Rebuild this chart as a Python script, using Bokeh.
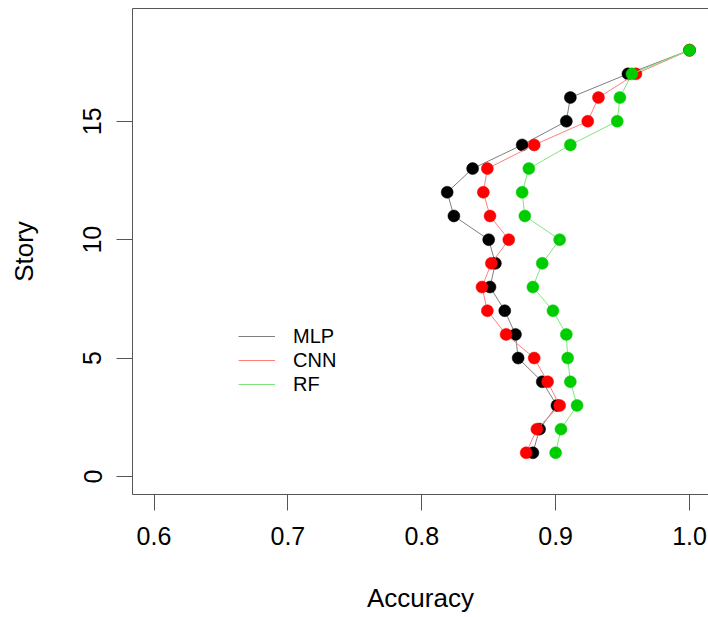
from bokeh.plotting import figure
from bokeh.models import (Range1d, FixedTicker, LinearAxis, Legend, LegendItem,
                          ColumnDataSource, PrintfTickFormatter)
from bokeh.embed import file_html
from bokeh.resources import INLINE

story = list(range(1, 19))
mlp = [0.883, 0.888, 0.901, 0.890, 0.872, 0.870, 0.862, 0.851, 0.855,
       0.850, 0.824, 0.819, 0.838, 0.875, 0.908, 0.911, 0.954, 1.000]
cnn = [0.878, 0.886, 0.903, 0.894, 0.884, 0.863, 0.849, 0.845, 0.852,
       0.865, 0.851, 0.846, 0.849, 0.884, 0.924, 0.932, 0.960, 1.000]
rf = [0.900, 0.904, 0.916, 0.911, 0.909, 0.908, 0.898, 0.883, 0.890,
      0.903, 0.877, 0.875, 0.880, 0.911, 0.946, 0.948, 0.957, 1.000]
series_names = ["MLP", "CNN", "RF"]
point_colors = ["#000000", "#FF0000", "#00CD00"]
line_colors = ["#7F7F7F", "#FF7F7F", "#7FE67F"]
x_ticks = [0.6, 0.7, 0.8, 0.9, 1.0]
y_ticks = [0, 5, 10, 15]

FONT = "Liberation Sans"
AXIS_GRAY = "#555555"

p = figure(width=708, height=617, output_backend="svg", toolbar_location=None,
           x_range=Range1d(0.58394, 1.01419), y_range=Range1d(-0.76, 19.76),
           min_border_left=132, min_border_right=0, min_border_top=8,
           min_border_bottom=123)
p.outline_line_color = None
p.grid.grid_line_color = None
p.background_fill_color = "white"
p.border_fill_color = "white"

p.xaxis.ticker = FixedTicker(ticks=x_ticks)
p.xaxis.formatter = PrintfTickFormatter(format="%.1f")
p.yaxis.ticker = FixedTicker(ticks=y_ticks)
for ax in (p.xaxis[0], p.yaxis[0]):
    ax.axis_line_color = AXIS_GRAY
    ax.major_tick_line_color = AXIS_GRAY
    ax.major_tick_out = 16
    ax.major_tick_in = 0
    ax.minor_tick_line_color = None
    ax.major_label_text_font = FONT
    ax.major_label_text_font_size = "25px"
    ax.major_label_text_color = "black"
    ax.axis_label_text_font = FONT
    ax.axis_label_text_font_size = "26px"
    ax.axis_label_text_font_style = "normal"
    ax.axis_label_text_color = "black"

p.xaxis.axis_label = "Accuracy"
p.yaxis.axis_label = "Story"
p.xaxis.major_label_standoff = 16
p.xaxis.axis_label_standoff = 35
p.yaxis.major_label_orientation = "vertical"
p.yaxis.major_label_standoff = 15
p.yaxis.axis_label_standoff = 42

top_axis = LinearAxis(ticker=FixedTicker(ticks=[]), axis_line_color=AXIS_GRAY,
                      major_tick_line_color=None, minor_tick_line_color=None,
                      major_label_text_font_size="0px", major_label_standoff=0)
p.add_layout(top_axis, "above")

items = []
for name, vals, pc, lc in zip(series_names, [mlp, cnn, rf], point_colors, line_colors):
    src = ColumnDataSource(dict(x=vals, y=story))
    ln = p.line("x", "y", source=src, line_color=lc, line_width=1)
    p.scatter("x", "y", source=src, size=12, fill_color=pc, line_color=pc,
              line_width=0.5)
    items.append(LegendItem(label=name, renderers=[ln]))

legend = Legend(items=items, location=(106, 98), padding=0, margin=0,
                border_line_color=None, background_fill_alpha=0,
                label_text_font=FONT, label_text_font_size="20px",
                label_text_color="black", glyph_width=37, glyph_height=24,
                label_height=24, spacing=0, label_standoff=18)
p.add_layout(legend, "center")

open("out.html", "w").write(file_html(p, INLINE))
